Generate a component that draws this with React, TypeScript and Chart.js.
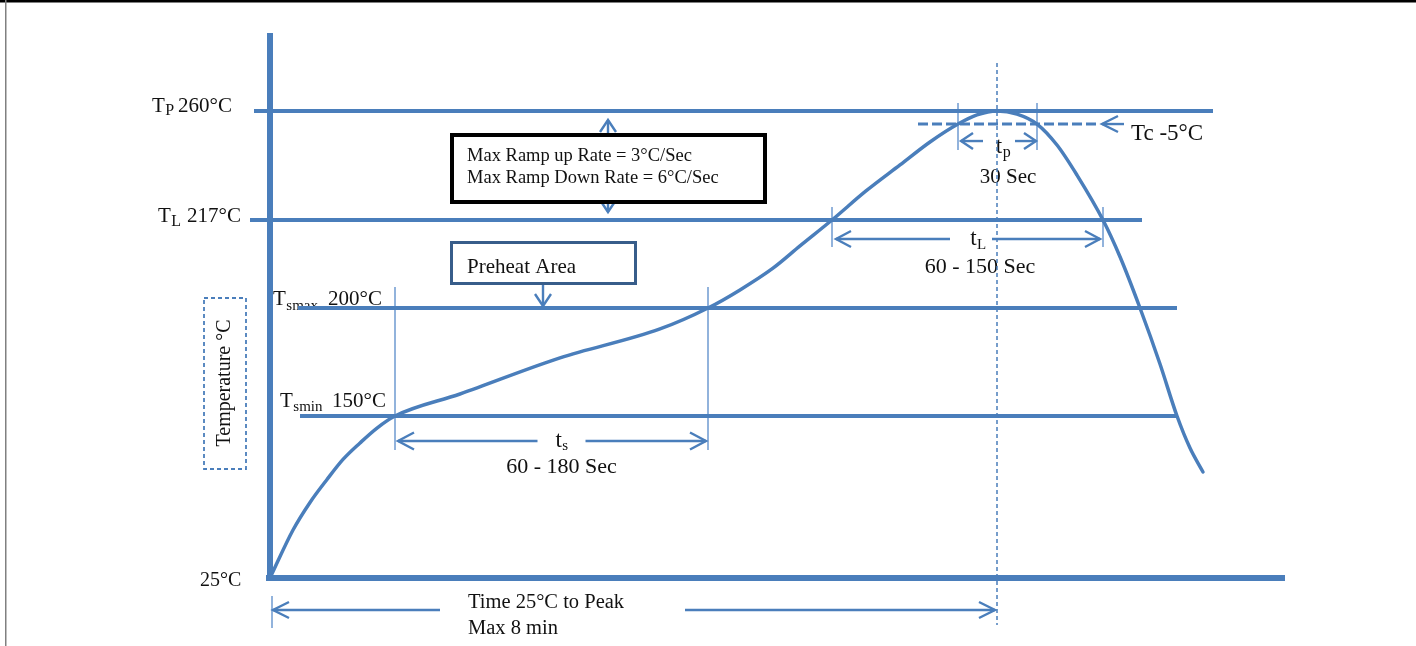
import React, { useEffect, useRef } from 'react';
import { Chart, registerables, LinearScale } from 'chart.js';

// ---------------- data (schematic time units, temperature in °C) ----------------
const CURVE_TIME = [0, 23, 40, 57, 73, 90, 107, 125, 190, 290, 390, 438, 470, 503, 530, 562, 596, 630, 660, 688, 707, 727, 747, 767, 787, 807, 833, 850, 870, 890, 907, 920, 933];
const CURVE_TEMP = [25, 62, 83.3, 101, 116.5, 129.2, 140.7, 150, 160.2, 176.9, 190.3, 200, 203.5, 207.7, 212, 217, 228.5, 238.8, 247.9, 255, 258.5, 260, 258.8, 255, 246.7, 234.8, 217, 209.9, 200, 174.1, 150, 125.3, 106.8];

const LEVEL_TEMPS = [260, 217, 200, 150];
const LEVEL_START = [-16, -20, 28, 30];
const LEVEL_END = [943, 872, 907, 907];
const LEVEL_SUBS = ['P', 'L', 'smax', 'smin'];
const LEVEL_VALUES = ['260°C', '217°C', '200°C', '150°C'];

const TC_TEMP = 255;
const TC_START = 648;
const TC_END = 827;

const AXIS_TEMP = 25;
const AXIS_TOP_TEMP = 287;
const AXIS_END_TIME = 1012;

const SOAK_TIMES = [125, 438];
const LIQUIDUS_TIMES = [562, 833];
const PEAK_WINDOW = [688, 767];
const PEAK_TIME = 727;

const TEXT_TS = ['t', 's', '60 - 180 Sec'];
const TEXT_TL = ['t', 'L', '60 - 150 Sec'];
const TEXT_TP = ['t', 'p', '30 Sec'];
const TEXT_TC = 'Tc -5°C';
const TEXT_RAMP = ['Max Ramp up Rate = 3°C/Sec', 'Max Ramp Down Rate = 6°C/Sec'];
const TEXT_PREHEAT = 'Preheat Area';
const TEXT_TIME = ['Time 25°C to Peak', 'Max 8 min'];
const TEXT_YTITLE = 'Temperature °C';
const TEXT_BASE = '25°C';

// ---------------- layout (schematic, non-linear temperature axis) ----------------
const TEMP_STOPS = [0, 25, 150, 200, 217, 255, 260, 300];
const LEVEL_FRAC = [0.0557, 0.1053, 0.356, 0.5232, 0.6594, 0.808, 0.8282, 1.0];
const LABEL_X = [[152, 178], [158, 187], [273, 328], [280, 332]];
const LABEL_DY = [1, 2, -3, -9];
const SUB_SIZE = [16, 16, 15, 15];
const SUB_DY = [3, 4, 5, 4];

const SERIF = '"Liberation Serif", "Times New Roman", serif';
const BLUE = '#4A7EBB';
const THIN = '#6E9AD0';

function interp(v: number, xs: number[], ys: number[]) {
  let i = 0;
  while (i < xs.length - 2 && v > xs[i + 1]) i++;
  const t = (v - xs[i]) / (xs[i + 1] - xs[i]);
  return ys[i] + t * (ys[i + 1] - ys[i]);
}

class ProfileScale extends LinearScale {
  static id = 'profile';
  getPixelForValue(value: number) {
    const f = interp(value, TEMP_STOPS, LEVEL_FRAC);
    return this.bottom - f * (this.bottom - this.top);
  }
  getValueForPixel(pixel: number) {
    const f = (this.bottom - pixel) / (this.bottom - this.top);
    return interp(f, LEVEL_FRAC, TEMP_STOPS);
  }
}

Chart.register(...registerables, ProfileScale as any);

function seg(ctx: any, x1: number, y1: number, x2: number, y2: number, w: number, color: string, dash: number[] = []) {
  ctx.save();
  ctx.strokeStyle = color;
  ctx.lineWidth = w;
  ctx.setLineDash(dash);
  ctx.beginPath();
  ctx.moveTo(x1, y1);
  ctx.lineTo(x2, y2);
  ctx.stroke();
  ctx.restore();
}

function head(ctx: any, x: number, y: number, dir: string, len = 15, half = 8, w = 2.4) {
  ctx.save();
  ctx.strokeStyle = BLUE;
  ctx.lineWidth = w;
  ctx.lineJoin = 'miter';
  ctx.beginPath();
  if (dir === 'left') { ctx.moveTo(x + len, y - half); ctx.lineTo(x, y); ctx.lineTo(x + len, y + half); }
  if (dir === 'right') { ctx.moveTo(x - len, y - half); ctx.lineTo(x, y); ctx.lineTo(x - len, y + half); }
  if (dir === 'up') { ctx.moveTo(x - half, y + len); ctx.lineTo(x, y); ctx.lineTo(x + half, y + len); }
  if (dir === 'down') { ctx.moveTo(x - half, y - len); ctx.lineTo(x, y); ctx.lineTo(x + half, y - len); }
  ctx.stroke();
  ctx.restore();
}

function text(ctx: any, s: string, x: number, y: number, size: number, align = 'left') {
  ctx.font = `${size}px ${SERIF}`;
  ctx.textAlign = align;
  ctx.textBaseline = 'alphabetic';
  ctx.fillStyle = '#111';
  ctx.fillText(s, x, y);
}

function subText(ctx: any, main: string, sub: string, x: number, y: number, size: number, subSize: number, subDy: number, center = false) {
  ctx.font = `${size}px ${SERIF}`;
  const w1 = ctx.measureText(main).width;
  ctx.font = `${subSize}px ${SERIF}`;
  const w2 = ctx.measureText(sub).width;
  const x0 = center ? x - (w1 + w2) / 2 : x;
  text(ctx, main, x0, y, size);
  text(ctx, sub, x0 + w1 + 0.5, y + subDy, subSize);
}

const diagramPlugin = {
  id: 'reflowDiagram',
  beforeDatasetsDraw(chart: any) {
    const ctx = chart.ctx;
    const X = (t: number) => chart.scales.x.getPixelForValue(t);
    const Y = (T: number) => chart.scales.y.getPixelForValue(T);
    ctx.save();

    // page frame
    ctx.fillStyle = '#000';
    ctx.fillRect(0, 0, chart.width, 2.5);
    ctx.fillStyle = '#808080';
    ctx.fillRect(5, 0, 1.5, chart.height);

    // level labels
    LEVEL_TEMPS.forEach((T, i) => {
      const y = Y(T) + LABEL_DY[i];
      subText(ctx, 'T', LEVEL_SUBS[i], LABEL_X[i][0], y, 21, SUB_SIZE[i], SUB_DY[i]);
      text(ctx, LEVEL_VALUES[i], LABEL_X[i][1], y, 21);
    });
    text(ctx, TEXT_BASE, 200, Y(AXIS_TEMP) + 8, 20);

    // y title in dashed box
    ctx.save();
    ctx.strokeStyle = BLUE;
    ctx.lineWidth = 1.8;
    ctx.setLineDash([4, 3]);
    ctx.strokeRect(204, 298, 42, 171);
    ctx.restore();
    ctx.save();
    ctx.translate(225, 383);
    ctx.rotate(-Math.PI / 2);
    ctx.font = `20px ${SERIF}`;
    ctx.textAlign = 'center';
    ctx.textBaseline = 'middle';
    ctx.fillStyle = '#111';
    ctx.fillText(TEXT_YTITLE, 0, 0);
    ctx.restore();

    // soak window ts
    const sa = X(SOAK_TIMES[0]), sb = X(SOAK_TIMES[1]);
    const sTop = Y(200) - 21, sBot = Y(150) + 34;
    seg(ctx, sa, sTop, sa, sBot, 1.5, THIN);
    seg(ctx, sb, sTop, sb, sBot, 1.5, THIN);
    const sy = Y(150) + 25;
    const scx = (sa + sb) / 2 + 10;
    seg(ctx, sa + 3, sy, scx - 24, sy, 2.4, BLUE);
    seg(ctx, scx + 24, sy, sb - 2, sy, 2.4, BLUE);
    head(ctx, sa + 3, sy, 'left', 16, 8.5);
    head(ctx, sb - 2, sy, 'right', 16, 8.5);
    subText(ctx, TEXT_TS[0], TEXT_TS[1], scx, sy + 6, 23, 15, 3, true);
    text(ctx, TEXT_TS[2], scx, sy + 32, 22, 'center');

    // liquidus window tL
    const la = X(LIQUIDUS_TIMES[0]), lb = X(LIQUIDUS_TIMES[1]);
    const lTop = Y(217) - 13, lBot = Y(217) + 27;
    seg(ctx, la, lTop, la, lBot, 1.5, THIN);
    seg(ctx, lb, lTop, lb, lBot, 1.5, THIN);
    const ly = Y(217) + 19;
    const lcx = 978;
    seg(ctx, la + 4, ly, lcx - 28, ly, 2.4, BLUE);
    seg(ctx, lcx + 14, ly, lb - 3, ly, 2.4, BLUE);
    head(ctx, la + 4, ly, 'left', 15, 8);
    head(ctx, lb - 3, ly, 'right', 15, 8);
    subText(ctx, TEXT_TL[0], TEXT_TL[1], lcx, ly + 6, 23, 15, 4, true);
    text(ctx, TEXT_TL[2], lcx + 2, ly + 34, 22, 'center');

    // peak window tp
    const pa = X(PEAK_WINDOW[0]), pb = X(PEAK_WINDOW[1]);
    const pTop = Y(260) - 8, pBot = Y(255) + 26;
    seg(ctx, pa, pTop, pa, pBot, 1.5, THIN);
    seg(ctx, pb, pTop, pb, pBot, 1.5, THIN);
    const py = Y(255) + 17;
    seg(ctx, pa + 3, py, pa + 25, py, 2.4, BLUE);
    seg(ctx, pb - 22, py, pb - 1, py, 2.4, BLUE);
    head(ctx, pa + 3, py, 'left', 12, 8);
    head(ctx, pb - 1, py, 'right', 12, 8);
    subText(ctx, TEXT_TP[0], TEXT_TP[1], 1003, py + 12, 23, 16, 4, true);
    text(ctx, TEXT_TP[2], 1008, py + 42, 21, 'center');

    // peak dashed vertical
    const px = X(PEAK_TIME);
    seg(ctx, px, 63, px, 625, 1.5, BLUE, [4, 3]);

    // Tc arrow + label
    const ty = Y(TC_TEMP);
    const tx = X(TC_END) + 5;
    seg(ctx, tx, ty, tx + 22, ty, 2.4, BLUE);
    head(ctx, tx, ty, 'left', 16, 8);
    text(ctx, TEXT_TC, 1131, ty + 16, 23);

    // ramp-rate double arrow and box
    seg(ctx, 608, 120, 608, 212, 2.4, BLUE);
    head(ctx, 608, 120, 'up', 12, 8);
    head(ctx, 608, 212, 'down', 12, 8);
    ctx.save();
    ctx.fillStyle = '#fff';
    ctx.fillRect(452, 135, 313, 67);
    ctx.strokeStyle = '#000';
    ctx.lineWidth = 4;
    ctx.strokeRect(452, 135, 313, 67);
    ctx.restore();
    text(ctx, TEXT_RAMP[0], 467, 161, 18.5);
    text(ctx, TEXT_RAMP[1], 467, 183, 18.5);

    // preheat box and arrow
    ctx.save();
    ctx.fillStyle = '#fff';
    ctx.fillRect(451.5, 242.5, 184, 41);
    ctx.strokeStyle = '#385D8A';
    ctx.lineWidth = 3;
    ctx.strokeRect(451.5, 242.5, 184, 41);
    ctx.restore();
    text(ctx, TEXT_PREHEAT, 467, 273, 21);
    seg(ctx, 543, 285, 543, Y(200) - 2, 2.4, BLUE);
    head(ctx, 543, Y(200) - 2, 'down', 12, 8);

    // time to peak arrow
    const by = Y(AXIS_TEMP) + 32;
    const bx0 = X(0) + 3;
    seg(ctx, bx0 - 1, by - 14, bx0 - 1, by + 18, 1.5, THIN);
    seg(ctx, bx0, by, 440, by, 2.4, BLUE);
    seg(ctx, 685, by, px - 2, by, 2.4, BLUE);
    head(ctx, bx0, by, 'left', 16, 8);
    head(ctx, px - 2, by, 'right', 16, 8);
    text(ctx, TEXT_TIME[0], 468, by - 2, 20.5);
    text(ctx, TEXT_TIME[1], 468, by + 24, 20.5);

    ctx.restore();
  },
};

function buildDatasets() {
  const ds: any[] = [];
  LEVEL_TEMPS.forEach((T, i) => {
    ds.push({
      data: [{ x: LEVEL_START[i], y: T }, { x: LEVEL_END[i], y: T }],
      borderColor: BLUE, borderWidth: 4, showLine: true, pointRadius: 0, clip: false,
    });
  });
  ds.push({
    data: [{ x: TC_START, y: TC_TEMP }, { x: TC_END, y: TC_TEMP }],
    borderColor: BLUE, borderWidth: 3, borderDash: [10, 4], showLine: true, pointRadius: 0, clip: false,
  });
  ds.push({
    data: [{ x: 0, y: AXIS_TEMP }, { x: 0, y: AXIS_TOP_TEMP }],
    borderColor: BLUE, borderWidth: 6, borderCapStyle: 'square', showLine: true, pointRadius: 0, clip: false,
  });
  ds.push({
    data: [{ x: -1, y: AXIS_TEMP }, { x: AXIS_END_TIME, y: AXIS_TEMP }],
    borderColor: BLUE, borderWidth: 6, borderCapStyle: 'square', showLine: true, pointRadius: 0, clip: false,
  });
  ds.push({
    data: CURVE_TIME.map((t, i) => ({ x: t, y: CURVE_TEMP[i] })),
    borderColor: BLUE, borderWidth: 3.5, borderCapStyle: 'round', showLine: true, pointRadius: 0,
    cubicInterpolationMode: 'monotone', clip: false,
  });
  return ds;
}

export default function App() {
  const ref = useRef<HTMLCanvasElement>(null);
  useEffect(() => {
    const chart = new Chart(ref.current as HTMLCanvasElement, {
      type: 'scatter',
      data: { datasets: buildDatasets() },
      options: {
        animation: false,
        responsive: false,
        devicePixelRatio: 1,
        events: [],
        layout: { padding: 0 },
        plugins: { legend: { display: false }, tooltip: { enabled: false } },
        scales: {
          x: { type: 'linear', display: false, min: -270, max: 1146 },
          y: { type: 'profile', display: false, min: 0, max: 300 } as any,
        },
      } as any,
      plugins: [diagramPlugin as any],
    });
    return () => chart.destroy();
  }, []);
  return (
    <div style={{ position: 'fixed', left: 0, top: 0, width: 1416, height: 646, background: '#fff' }}>
      <canvas ref={ref} width={1416} height={646} style={{ display: 'block' }} />
    </div>
  );
}
